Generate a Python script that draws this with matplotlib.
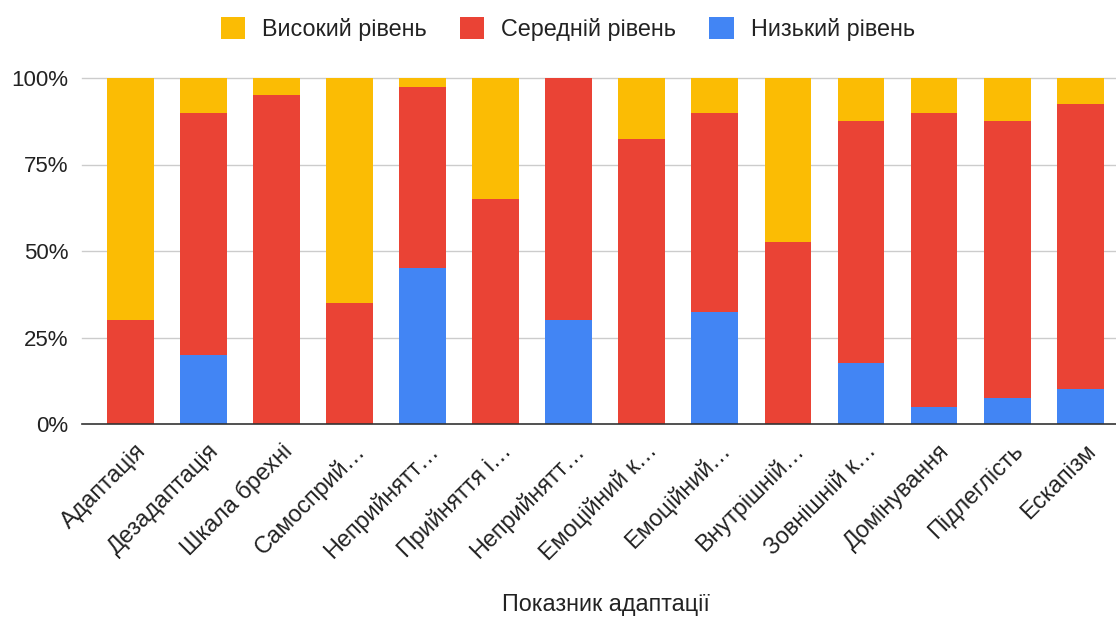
import numpy as np
import matplotlib.pyplot as plt
import matplotlib.transforms as mtransforms
from matplotlib.patches import Patch
from matplotlib.ticker import FuncFormatter

plt.rcParams['font.family'] = ['Liberation Sans', 'DejaVu Sans']

# Categories (truncated as shown in the chart)
categories = ['Адаптація', 'Дезадаптація', 'Шкала брехні', 'Самосприй…',
              'Неприйнятт…', 'Прийняття і…', 'Неприйнятт…', 'Емоційний к…',
              'Емоційний…', 'Внутрішній…', 'Зовнішній к…', 'Домінування',
              'Підлеглість', 'Ескапізм']

# Shares in percent
low = [0, 20, 0, 0, 45, 0, 30, 0, 32.5, 0, 17.5, 5, 7.5, 10]
mid = [30, 70, 95, 35, 52.5, 65, 70, 82.5, 57.5, 52.5, 70, 85, 80, 82.5]
high = [70, 10, 5, 65, 2.5, 35, 0, 17.5, 10, 47.5, 12.5, 10, 12.5, 7.5]

series_names = ['Високий рівень', 'Середній рівень', 'Низький рівень']
colors = {'high': '#FBBC04', 'mid': '#EA4335', 'low': '#4285F4'}

fig = plt.figure(figsize=(11.16, 6.17), dpi=100)
ax = fig.add_axes([82 / 1116, 1 - 424 / 617, 1034 / 1116, 346 / 617])

x = np.arange(len(categories))
w = 0.64
low_a = np.array(low)
mid_a = np.array(mid)
high_a = np.array(high)

ax.bar(x, low_a, w, color=colors['low'], zorder=2)
ax.bar(x, mid_a, w, bottom=low_a, color=colors['mid'], zorder=2)
ax.bar(x, high_a, w, bottom=low_a + mid_a, color=colors['high'], zorder=2)

ax.set_xlim(-0.66, 13.49)
ax.set_ylim(0, 100)
ax.set_yticks([0, 25, 50, 75, 100])
ax.yaxis.set_major_formatter(FuncFormatter(lambda v, p: f'{int(v)}%'))
for yv in [25, 50, 75, 100]:
    ax.axhline(yv, color='#cccccc', lw=1, zorder=1, clip_on=False)
ax.axhline(0, color='#333333', lw=1.2, zorder=3, clip_on=False)

for s in ax.spines.values():
    s.set_visible(False)
ax.tick_params(axis='both', length=0, labelsize=16, colors='#222222')
ax.tick_params(axis='y', pad=10)
ax.set_xticks(x)
ax.set_xticklabels(categories, rotation=45, ha='right', rotation_mode='anchor',
                   fontsize=16.8)
ax.tick_params(axis='x', pad=11)
shift = mtransforms.ScaledTranslation(4 / 100, 0, fig.dpi_scale_trans)
for lbl in ax.get_xticklabels():
    lbl.set_transform(lbl.get_transform() + shift)

fig.text(606 / 1116, 1 - 605 / 617, 'Показник адаптації', ha='center',
         va='center', fontsize=16.8, color='#222222')

handles = [Patch(facecolor=colors['high']), Patch(facecolor=colors['mid']),
           Patch(facecolor=colors['low'])]
fig.legend(handles, series_names, loc='center', bbox_to_anchor=(568 / 1116, 1 - 29 / 617),
           ncol=3, frameon=False, fontsize=16.8, handlelength=1.03, handleheight=1.03,
           handletextpad=0.73, columnspacing=1.42, labelcolor='#222222')

fig.savefig('out.png', dpi=100)
